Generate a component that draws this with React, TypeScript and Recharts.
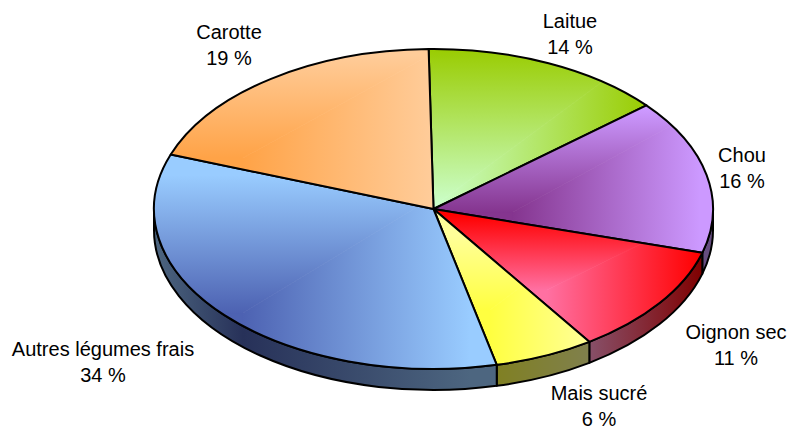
import { PieChart, Pie } from 'recharts';

const names = ['Laitue', 'Chou', 'Oignon sec', 'Mais sucré', 'Autres légumes frais', 'Carotte'];
const shares = [14.06, 15.64, 11.17, 5.78, 34.17, 19.19];

const data = names.map((name, i) => ({ name, value: shares[i] }));

// look of each slice: edge and focus colours, focus point, and the corner where the gradient ends
const looks: Record<string, any> = {
  Laitue: { edge: '#99cc00', focus: '#ccffcc', fx: 433, fy: 207, gx: 648, gy: 48 },
  Chou: { edge: '#cc99ff', focus: '#85358f', fx: 513, fy: 212, gx: 700, gy: 110 },
  'Oignon sec': { edge: '#ff0000', focus: '#ff70a2', fx: 547, fy: 290, gx: 700, gy: 215, wall: '#8a6e90', wallEnd: 703 },
  'Mais sucré': { edge: '#ffff99', focus: '#ffff40', fx: 490, fy: 310, gx: 590, gy: 235 },
  'Autres légumes frais': { edge: '#99ccff', focus: '#4d62b2', fx: 243, fy: 313, gx: 470, gy: 175 },
  Carotte: { edge: '#ffcc99', focus: '#ffa347', fx: 243, fy: 158, gx: 430, gy: 55 }
};

const labelSpots: Record<string, [number, number]> = {
  Laitue: [570, 22],
  Chou: [742, 156],
  'Oignon sec': [736, 333],
  'Mais sucré': [599, 394],
  'Autres légumes frais': [103, 350],
  Carotte: [229, 33]
};

const CX = 433.5;
const CY = 209;
const RX = 279.5;
const RY = 160;
const DEPTH = 21;

const rad = (d: number) => (d * Math.PI) / 180;
const px = (t: number) => CX + RX * Math.sin(rad(t));
const py = (t: number) => CY - RY * Math.cos(rad(t));

const halve = (hex: string) => {
  const n = parseInt(hex.slice(1), 16);
  const c = [(n >> 16) & 255, (n >> 8) & 255, n & 255].map((v) => Math.round(v / 2));
  return `rgb(${c.join(',')})`;
};

const TopSlice = (props: any) => {
  const t0 = 90 - props.startAngle;
  const t1 = 90 - props.endAngle;
  const look = looks[props.name];
  const id = `s${props.index}`;
  const big = t1 - t0 > 180 ? 1 : 0;
  const d = `M${CX},${CY} L${px(t0)},${py(t0)} A${RX},${RY} 0 ${big} 1 ${px(t1)},${py(t1)} Z`;
  const { fx, fy, gx, gy } = look;
  // three zones that cover the slice: above the diagonal, right of it, and flat focus colour
  const L = 100;
  const T = 0;
  const R = 760;
  const B = 426;
  const upPts = `${fx},${fy} ${gx},${gy} ${gx},${T} ${L},${T} ${L},${fy}`;
  const rightPts = `${fx},${fy} ${gx},${gy} ${gx},${T} ${R},${T} ${R},${B} ${fx},${B}`;
  const restPts = `${fx},${fy} ${fx},${B} ${L},${B} ${L},${fy}`;
  return (
    <g>
      <defs>
        <clipPath id={`${id}clip`}>
          <path d={d} />
        </clipPath>
        <linearGradient id={`${id}up`} gradientUnits='userSpaceOnUse' x1={fx} y1={fy} x2={fx} y2={gy}>
          <stop offset='0' stopColor={look.focus} />
          <stop offset='1' stopColor={look.edge} />
        </linearGradient>
        <linearGradient id={`${id}right`} gradientUnits='userSpaceOnUse' x1={fx} y1={fy} x2={gx} y2={fy}>
          <stop offset='0' stopColor={look.focus} />
          <stop offset='1' stopColor={look.edge} />
        </linearGradient>
      </defs>
      <g clipPath={`url(#${id}clip)`}>
        <polygon points={restPts} fill={look.focus} stroke={look.focus} strokeWidth={0.7} />
        <polygon points={upPts} fill={`url(#${id}up)`} stroke={`url(#${id}up)`} strokeWidth={0.7} />
        <polygon points={rightPts} fill={`url(#${id}right)`} stroke={`url(#${id}right)`} strokeWidth={0.7} />
      </g>
      <path d={d} fill='none' stroke='#000' strokeWidth={2} strokeLinejoin='round' />
    </g>
  );
};

const SideSlice = (props: any) => {
  const t0 = Math.max(90 - props.startAngle, 90);
  const t1 = Math.min(90 - props.endAngle, 270);
  if (t0 >= t1) return null;
  const look = looks[props.name];
  const id = `w${props.index}`;
  const x0 = CX - RX;
  const x1 = look.wallEnd || look.gx;
  const span = x1 - x0;
  const d =
    `M${px(t0)},${py(t0)} A${RX},${RY} 0 0 1 ${px(t1)},${py(t1)} ` +
    `L${px(t1)},${py(t1) + DEPTH} A${RX},${RY} 0 0 0 ${px(t0)},${py(t0) + DEPTH} Z`;
  return (
    <g>
      <defs>
        <linearGradient id={id} gradientUnits='userSpaceOnUse' x1={x0} y1={0} x2={x1} y2={0}>
          <stop offset='0' stopColor={halve(look.edge)} />
          <stop offset={(look.fx - x0) / span} stopColor={look.wall || halve(look.focus)} />
          <stop offset='1' stopColor={halve(look.edge)} />
        </linearGradient>
      </defs>
      <path d={d} fill={`url(#${id})`} stroke='#000' strokeWidth={2} strokeLinejoin='round' />
    </g>
  );
};

const SliceLabel = (props: any) => {
  const [x, y] = labelSpots[props.name];
  return (
    <text x={x} y={y} textAnchor='middle' fontFamily='Liberation Sans' fontSize={20} fill='#000'>
      <tspan x={x} dy={6}>{props.name}</tspan>
      <tspan x={x} dy={25.5}>{`${Math.round(props.value)} %`}</tspan>
    </text>
  );
};

const App = () => {
  return (
    <div style={{ position: 'absolute', left: 0, top: 0 }}>
      <PieChart width={789} height={426} margin={{ top: 0, right: 0, bottom: 0, left: 0 }}>
        <Pie
          data={data}
          dataKey='value'
          nameKey='name'
          cx={CX}
          cy={CY}
          outerRadius={RX}
          startAngle={91}
          endAngle={-269}
          paddingAngle={0}
          shape={SideSlice}
          isAnimationActive={false}
        />
        <Pie
          data={data}
          dataKey='value'
          nameKey='name'
          cx={CX}
          cy={CY}
          outerRadius={RX}
          startAngle={91}
          endAngle={-269}
          paddingAngle={0}
          shape={TopSlice}
          label={SliceLabel}
          labelLine={false}
          isAnimationActive={false}
        />
      </PieChart>
    </div>
  );
};

export default App;
